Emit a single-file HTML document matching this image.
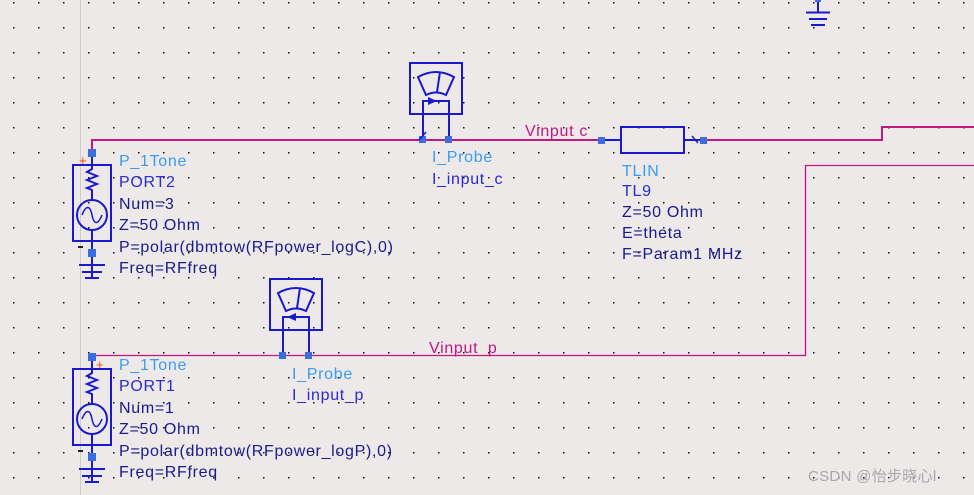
<!DOCTYPE html>
<html><head><meta charset="utf-8"><style>
html,body{margin:0;padding:0;background:#ece9e8;}
svg{display:block}
text{font-family:"Liberation Sans",sans-serif;font-size:16px;letter-spacing:0.7px;}
</style></head><body>
<svg width="974" height="495" xmlns="http://www.w3.org/2000/svg">
<defs>
<pattern id="g" x="13" y="2" width="25" height="25" patternUnits="userSpaceOnUse">
<rect x="0" y="0" width="1.5" height="1.5" fill="#111"/>
</pattern>
<g id="src">
<rect x="-19" y="0" width="38" height="76" fill="none" stroke="#1a1acc" stroke-width="2"/>
<line x1="0" y1="-12" x2="0" y2="2" stroke="#1a1acc" stroke-width="2"/>
<polyline points="0,2 0,4 -5,7 5,11 -5,15 5,19 -5,23 0,25 0,35" fill="none" stroke="#1a1acc" stroke-width="2"/>
<circle cx="0" cy="50" r="15" fill="none" stroke="#1a1acc" stroke-width="2"/>
<path d="M-10,50 C-6,40 -2,40 0,50 C2,60 6,60 10,50" fill="none" stroke="#1a1acc" stroke-width="1.5"/>
<line x1="0" y1="65" x2="0" y2="112" stroke="#1a1acc" stroke-width="2"/>
<rect x="-4" y="84" width="8" height="8" fill="#3a6ee0"/>
<rect x="-4" y="-16" width="8" height="8" fill="#3a6ee0"/>
<line x1="-13" y1="100" x2="13" y2="100" stroke="#1a1acc" stroke-width="2"/>
<line x1="-10" y1="107" x2="10" y2="107" stroke="#1a1acc" stroke-width="2"/>
<line x1="-7" y1="113" x2="7" y2="113" stroke="#1a1acc" stroke-width="2"/>
<line x1="-14" y1="82" x2="-9" y2="82" stroke="#222" stroke-width="2"/>
</g>
<g id="meter">
<rect x="0" y="0" width="52" height="51" fill="none" stroke="#1a1acc" stroke-width="2"/>
<path d="M8,14 Q26,4 44,14 L36,32 Q26,27 16,32 Z" fill="none" stroke="#1a1acc" stroke-width="2"/>
<line x1="30" y1="9" x2="27" y2="29" stroke="#1a1acc" stroke-width="2"/>
<polyline points="13,77 13,38 39,38 39,77" fill="none" stroke="#1a1acc" stroke-width="2"/>
<rect x="9" y="73" width="7" height="7" fill="#3a6ee0"/>
<rect x="35" y="73" width="7" height="7" fill="#3a6ee0"/>
</g>
</defs>
<rect width="974" height="495" fill="#ece9e8"/>
<rect width="974" height="495" fill="url(#g)"/>
<line x1="80.5" y1="0" x2="80.5" y2="495" stroke="#cfcccb" stroke-width="1"/>
<polyline points="92,153 92,140 602,140" fill="none" stroke="#c4177f" stroke-width="2"/>
<polyline points="703,140 882,140 882,127 974,127" fill="none" stroke="#c4177f" stroke-width="2"/>
<polyline points="92,355.5 805.5,355.5 805.5,165.5 974,165.5" fill="none" stroke="#c4177f" stroke-width="1.3"/>
<line x1="818" y1="0" x2="818" y2="12" stroke="#1a1acc" stroke-width="2"/>
<rect x="815" y="-2" width="6" height="4" fill="#3a6ee0"/>
<line x1="806" y1="12.5" x2="830" y2="12.5" stroke="#1a1acc" stroke-width="2"/>
<line x1="809" y1="19" x2="827" y2="19" stroke="#1a1acc" stroke-width="2"/>
<line x1="811" y1="25" x2="825" y2="25" stroke="#1a1acc" stroke-width="2"/>
<use href="#src" x="92" y="165"/>
<text x="79" y="165" fill="#ff4400" style="font-size:13px">+</text>
<use href="#src" x="92" y="369"/>
<text x="96" y="369" fill="#ff4400" style="font-size:13px">+</text>
<use href="#meter" x="410" y="63"/>
<path d="M437,101 L428,97 L428,105 Z" fill="#1a1acc"/>
<use href="#meter" x="270" y="279"/>
<path d="M287,317 L296,313 L296,321 Z" fill="#1a1acc"/>
<line x1="419" y1="140" x2="426" y2="132" stroke="#1a1acc" stroke-width="1.5"/>
<line x1="602" y1="140" x2="621" y2="140" stroke="#1a1acc" stroke-width="2"/>
<rect x="621" y="127" width="63" height="26" fill="none" stroke="#1a1acc" stroke-width="2"/>
<line x1="684" y1="140" x2="703" y2="140" stroke="#1a1acc" stroke-width="2"/>
<line x1="692" y1="136" x2="698" y2="143" stroke="#1a1acc" stroke-width="1.5"/>
<rect x="598" y="137" width="7" height="7" fill="#3a6ee0"/>
<rect x="700" y="137" width="7" height="7" fill="#3a6ee0"/>
<g fill="#1a1a8a">
<text x="119" y="166" fill="#3a9cf0">P_1Tone</text>
<text x="119" y="187" fill="#2a2ad0">PORT2</text>
<text x="119" y="209">Num=3</text>
<text x="119" y="230">Z=50 Ohm</text>
<text x="119" y="252">P=polar(dbmtow(RFpower_logC),0)</text>
<text x="119" y="273">Freq=RFfreq</text>
<text x="119" y="370" fill="#3a9cf0">P_1Tone</text>
<text x="119" y="391" fill="#2a2ad0">PORT1</text>
<text x="119" y="413">Num=1</text>
<text x="119" y="434">Z=50 Ohm</text>
<text x="119" y="456">P=polar(dbmtow(RFpower_logP),0)</text>
<text x="119" y="477">Freq=RFfreq</text>
<text x="432" y="162" fill="#3a9cf0">I_Probe</text>
<text x="432" y="184" fill="#2a2ad0">I_input_c</text>
<text x="292" y="379" fill="#3a9cf0">I_Probe</text>
<text x="292" y="400" fill="#2a2ad0">I_input_p</text>
<text x="622" y="176" fill="#3a9cf0">TLIN</text>
<text x="622" y="196" fill="#2a2ad0">TL9</text>
<text x="622" y="217">Z=50 Ohm</text>
<text x="622" y="238">E=theta</text>
<text x="622" y="259">F=Param1 MHz</text>
</g>
<text x="525" y="136" fill="#c4177f">Vinput  c</text>
<text x="429" y="353" fill="#c4177f">Vinput_p</text>
<text x="808" y="481" fill="#a8a8a8" style="font-family:'Liberation Sans','Noto Sans CJK SC',sans-serif;font-size:15px;letter-spacing:0.3px">CSDN @怡步晓心l</text>
</svg>
</body></html>
